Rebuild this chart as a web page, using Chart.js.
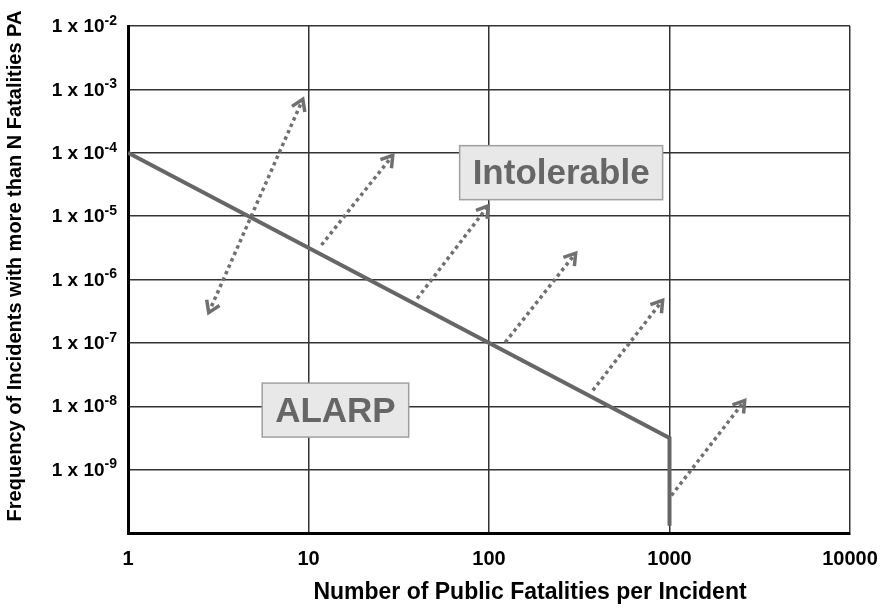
<!DOCTYPE html>
<html>
<head>
<meta charset="utf-8">
<title>F-N criterion</title>
<script src="https://cdn.jsdelivr.net/npm/chart.js@4.4.1/dist/chart.umd.min.js"></script>
<style>
  html, body { margin: 0; padding: 0; background: #fff; }
  #wrap { width: 886px; height: 610px; }
</style>
</head>
<body>
<div id="wrap"><canvas id="fn" width="886" height="610"></canvas></div>
<script>
// axis ticks (decades only)
const xTicks = [1, 10, 100, 1000, 10000];
const yTicks = [1e-2, 1e-3, 1e-4, 1e-5, 1e-6, 1e-7, 1e-8, 1e-9, 1e-10];
const yTickExp = ['-2', '-3', '-4', '-5', '-6', '-7', '-8', '-9', ''];

// criterion line: N vs frequency
const critN = [1, 1000, 1000];
const critF = [1e-4, 3.16e-9, 1.3e-10];

// dotted arrows (from -> to)
const arrowFromN = [2.8, 11.8, 40, 123, 376, 1025];
const arrowFromF = [3.0e-7, 3.5e-6, 5.0e-7, 1.02e-7, 1.78e-8, 3.9e-10];
const arrowToN = [9.3, 29.3, 99, 302, 916, 2610];
const arrowToF = [7.0e-4, 9.1e-5, 1.45e-5, 2.6e-6, 4.7e-7, 1.23e-8];
const arrowBoth = [true, false, false, false, false, false];

// zone labels
const zoneText = ['Intolerable', 'ALARP'];
const zoneN = [251, 14.1];
const zoneF = [4.85e-5, 8.7e-9];

const xTitle = 'Number of Public Fatalities per Incident';
const yTitle = 'Frequency of Incidents with more than N Fatalities PA';

const FONT = '"Liberation Sans", Arial, sans-serif';
const ARROW_COLOR = '#707070';

function drawHead(ctx, fx, fy, tx, ty) {
  const a = Math.atan2(ty - fy, tx - fx);
  const len = 13, spread = Math.PI / 5.5;
  ctx.save();
  ctx.setLineDash([]);
  ctx.strokeStyle = ARROW_COLOR;
  ctx.lineWidth = 3.5;
  ctx.beginPath();
  ctx.moveTo(tx - len * Math.cos(a - spread), ty - len * Math.sin(a - spread));
  ctx.lineTo(tx, ty);
  ctx.lineTo(tx - len * Math.cos(a + spread), ty - len * Math.sin(a + spread));
  ctx.stroke();
  ctx.restore();
}

const fnDecor = {
  id: 'fnDecor',
  afterDatasetsDraw(chart) {
    const ctx = chart.ctx;
    const xs = chart.scales.x, ys = chart.scales.y;

    // arrow heads on the dotted lines
    arrowFromN.forEach((_, i) => {
      const pts = chart.getDatasetMeta(i + 1).data;
      drawHead(ctx, pts[0].x, pts[0].y, pts[1].x, pts[1].y);
      if (arrowBoth[i]) drawHead(ctx, pts[1].x, pts[1].y, pts[0].x, pts[0].y);
    });

    // zone boxes
    ctx.save();
    ctx.font = 'bold 35px ' + FONT;
    ctx.textAlign = 'center';
    ctx.textBaseline = 'middle';
    zoneText.forEach((t, i) => {
      const cx = xs.getPixelForValue(zoneN[i]);
      const cy = ys.getPixelForValue(zoneF[i]);
      const w = ctx.measureText(t).width + 26, h = 54;
      ctx.fillStyle = '#e8e8e8';
      ctx.fillRect(cx - w / 2, cy - h / 2, w, h);
      ctx.strokeStyle = '#a0a0a0';
      ctx.lineWidth = 1.5;
      ctx.strokeRect(cx - w / 2, cy - h / 2, w, h);
      ctx.fillStyle = '#666';
      ctx.fillText(t, cx, cy + 2);
    });
    ctx.restore();
  },
  afterDraw(chart) {
    const ctx = chart.ctx;
    const area = chart.chartArea;
    const ys = chart.scales.y;

    // y tick labels "1 x 10^n"
    ctx.save();
    ctx.fillStyle = '#000';
    ctx.textBaseline = 'middle';
    const xr = area.left - 11;
    yTicks.forEach((v, i) => {
      if (!yTickExp[i]) return;
      const y = ys.getPixelForValue(v);
      ctx.font = 'bold 14px ' + FONT;
      const ew = ctx.measureText(yTickExp[i]).width;
      ctx.textAlign = 'left';
      ctx.fillText(yTickExp[i], xr - ew, y - 5);
      ctx.font = 'bold 19px ' + FONT;
      ctx.textAlign = 'right';
      ctx.fillText('1 x 10', xr - ew, y + 1);
    });

    // axis titles
    ctx.font = 'bold 23px ' + FONT;
    ctx.textAlign = 'center';
    ctx.fillText(xTitle, 530, 593);

    ctx.translate(15, 266);
    ctx.rotate(-Math.PI / 2);
    ctx.font = 'bold 20px ' + FONT;
    ctx.fillText(yTitle, 0, 0);
    ctx.restore();
  }
};

const datasets = [{
  label: 'criterion',
  data: critN.map((n, i) => ({ x: n, y: critF[i] })),
  showLine: true,
  borderColor: '#666',
  borderWidth: 4,
  pointRadius: 0,
  tension: 0
}];
arrowFromN.forEach((n, i) => {
  datasets.push({
    label: 'arrow' + i,
    data: [{ x: n, y: arrowFromF[i] }, { x: arrowToN[i], y: arrowToF[i] }],
    showLine: true,
    borderColor: ARROW_COLOR,
    borderWidth: 3.5,
    borderDash: [3.5, 3.5],
    pointRadius: 0
  });
});

new Chart(document.getElementById('fn'), {
  type: 'scatter',
  data: { datasets: datasets },
  plugins: [fnDecor],
  options: {
    responsive: false,
    animation: false,
    layout: { padding: { left: 0, right: 36, top: 26, bottom: 0 } },
    plugins: { legend: { display: false }, tooltip: { enabled: false } },
    scales: {
      x: {
        type: 'logarithmic',
        min: 1,
        max: 10000,
        afterBuildTicks: s => { s.ticks = xTicks.map(v => ({ value: v })); },
        afterFit: s => { s.height = 77; s.paddingLeft = 0; s.paddingRight = 0; },
        ticks: {
          autoSkip: false,
          maxRotation: 0,
          padding: 14,
          color: '#000',
          font: { family: FONT, size: 20, weight: 'bold' },
          callback: v => String(v)
        },
        grid: { color: '#333', lineWidth: 1.5, drawTicks: false },
        border: { color: '#000', width: 3 }
      },
      y: {
        type: 'logarithmic',
        min: 1e-10,
        max: 1e-2,
        afterBuildTicks: s => { s.ticks = yTicks.map(v => ({ value: v })); },
        afterFit: s => { s.width = 128; },
        ticks: { display: false },
        grid: { color: '#333', lineWidth: 1.5, drawTicks: false },
        border: { color: '#000', width: 3 }
      }
    }
  }
});
</script>
</body>
</html>
